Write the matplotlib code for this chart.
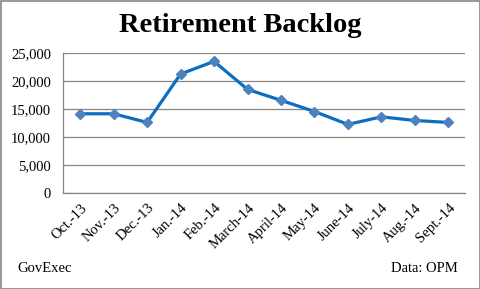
import matplotlib
matplotlib.use("Agg")
import matplotlib.pyplot as plt
from matplotlib.patches import Rectangle

months = ["Oct.-13", "Nov.-13", "Dec.-13", "Jan.-14", "Feb.-14", "March-14",
          "April-14", "May-14", "June-14", "July-14", "Aug.-14", "Sept.-14"]
backlog = [14150, 14150, 12600, 21250, 23500, 18500,
           16550, 14550, 12250, 13600, 12950, 12600]
yticks = [0, 5000, 10000, 15000, 20000, 25000]

plt.rcParams["font.family"] = "Liberation Serif"

W, H = 481, 289
fig = plt.figure(figsize=(W / 100, H / 100), dpi=100)
ax = fig.add_axes([63.5 / W, 1 - 193 / H, (465 - 63.5) / W, (193 - 53) / H])

x = range(len(months))
ax.plot(x, backlog, color="#0a6fc2", lw=2.3, marker="D", ms=5.5,
        mfc="#4f81bd", mec="#4f81bd", zorder=3)

ax.set_xlim(-0.5, len(months) - 0.5)
ax.set_ylim(0, 25000)
ax.set_yticks(yticks)
ax.set_yticklabels([f"{v:,}" for v in yticks], fontsize=10.5)
ax.set_xticks(list(x))
ax.set_xticklabels(months, rotation=45, ha="right", rotation_mode="anchor",
                   fontsize=10.5)
ax.tick_params(length=0, pad=9)
ax.tick_params(axis="x", pad=6)
ax.grid(axis="y", color="#868686", lw=0.9)
ax.set_axisbelow(True)
for s in ("top", "right"):
    ax.spines[s].set_visible(False)
for s in ("left", "bottom"):
    ax.spines[s].set_color("#868686")
    ax.spines[s].set_linewidth(0.9)

fig.text(0.5, 1 - 25 / H, "Retirement Backlog", ha="center", va="center",
         fontsize=20.5, fontweight="bold")
fig.text(17 / W, 1 - 268 / H, "GovExec", ha="left", va="center", fontsize=10.5)
fig.text(458 / W, 1 - 268 / H, "Data: OPM", ha="right", va="center", fontsize=10.5)

fig.patches.append(Rectangle((0.5 / W, 0.5 / H), (W - 1.5) / W, (H - 1.5) / H,
                             transform=fig.transFigure, fill=False,
                             ec="#868686", lw=1.2))

fig.savefig("out.png", dpi=100)
